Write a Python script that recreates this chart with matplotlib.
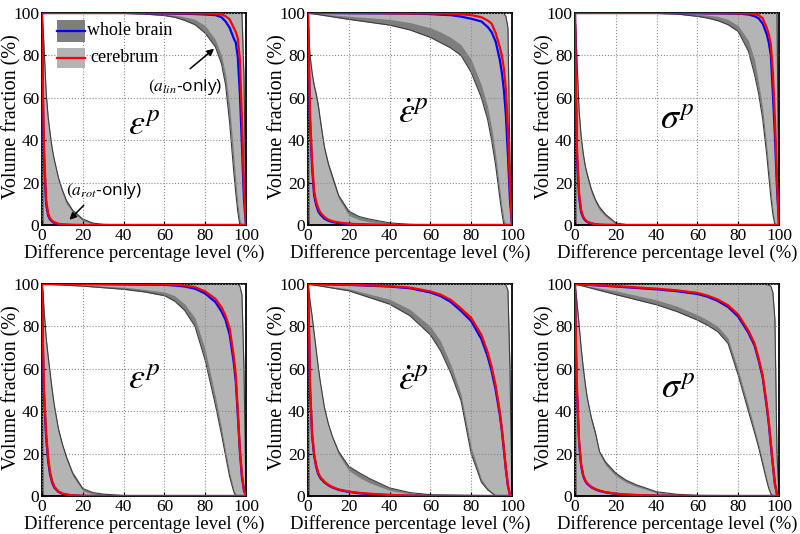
import matplotlib
matplotlib.use('Agg')
from matplotlib import pyplot as plt
from matplotlib.patches import Rectangle

plt.rcParams['font.family'] = 'Liberation Serif'
plt.rcParams['mathtext.fontset'] = 'stix'

# x grids (difference percentage level, %)
rot_x = [0, 0.5, 1, 2, 3, 4, 5, 6, 8, 10, 12, 15, 20, 25, 30, 40, 50, 60, 100]
lin_x = [0, 20, 40, 50, 60, 65, 70, 75, 80, 85, 88, 90, 92, 94, 95, 96, 97, 98, 99, 100]
rot_lo = [100, 0, 0, 0, 0, 0, 0, 0, 0, 0, 0, 0, 0, 0, 0, 0, 0, 0, 0]

# panel 1: eps^p (top)
p1_rot_wb = [100, 93, 84, 63, 51, 43, 36, 31, 22.5, 16.5, 11.5, 7, 2.8, 0.9, 0.3, 0, 0, 0, 0]
p1_rot_c = [100, 92, 83, 62, 50, 42, 35, 30, 21, 15, 10, 6, 2, 0.5, 0, 0, 0, 0, 0]
p1_rot_blue = [100, 55, 32, 10, 4.5, 2.5, 1.6, 1, 0.4, 0.2, 0.1, 0, 0, 0, 0, 0, 0, 0, 0]
p1_rot_red = [100, 60, 36, 12, 5.5, 3, 2, 1.3, 0.6, 0.3, 0.15, 0.05, 0, 0, 0, 0, 0, 0, 0]
p1_lin_wb = [100, 100, 99.8, 99.5, 98.8, 98, 96.5, 94.5, 90.5, 84, 76, 66, 48, 25, 15, 6, 0, 0, 0, 0]
p1_lin_c = [100, 100, 99.9, 99.8, 99.4, 99, 98.2, 97, 94, 87.5, 80, 71, 56, 33, 21, 10, 2.5, 0, 0, 0]
p1_lin_blue = [100, 100, 100, 99.9, 99.8, 99.7, 99.6, 99.5, 99.3, 99, 98, 96, 93, 88, 86, 79, 62, 38, 12, 0]
p1_lin_red = [100, 100, 100, 100, 99.9, 99.9, 99.8, 99.8, 99.7, 99.6, 99.3, 98.5, 97, 93, 91, 88, 78, 50, 18, 0]
p1_lin_hi = [100, 100, 100, 100, 100, 100, 100, 100, 100, 100, 100, 100, 100, 100, 100, 100, 100, 100, 70, 0]

# panel 2: eps-dot^p (top)
p2_rot_wb = [100, 87, 80, 72, 66, 62, 57, 50, 37, 29, 23, 14, 6.5, 4, 2.8, 1, 0.3, 0, 0]
p2_rot_c = [100, 85, 78, 70, 64, 59, 54, 47, 35, 27, 21, 12.5, 4.5, 2.5, 1.5, 0.5, 0.1, 0, 0]
p2_rot_blue = [100, 72, 48, 27, 14, 9.5, 6.5, 5, 3, 2, 1.4, 0.9, 0.5, 0.3, 0.1, 0, 0, 0, 0]
p2_rot_red = [100, 75, 52, 30, 16, 11, 8, 6, 3.8, 2.5, 1.8, 1.2, 0.6, 0.4, 0.2, 0, 0, 0, 0]
p2_lin_wb = [100, 97, 94.3, 92, 88.5, 86, 83.5, 80, 72, 60, 50, 40, 28, 13, 6, 0, 0, 0, 0, 0]
p2_lin_c = [100, 98.5, 97, 95.5, 93, 91, 88.5, 85, 78, 66, 56, 46, 33, 17, 9, 3, 0, 0, 0, 0]
p2_lin_blue = [100, 99.9, 99.8, 99.7, 99.5, 99.2, 99, 98.3, 97.3, 96, 93.5, 91, 86.5, 78, 72, 64, 52, 33, 12, 0]
p2_lin_red = [100, 100, 99.9, 99.8, 99.8, 99.7, 99.7, 99.4, 99, 98, 96.5, 95, 90.5, 84, 80, 74, 64, 45, 18, 0]
p2_lin_hi = [100, 100, 100, 100, 100, 100, 100, 100, 100, 100, 100, 100, 100, 100, 100, 99.7, 98.5, 93, 30, 0]

# panel 3: sigma^p (top)
p3_rot_wb = [100, 91, 77, 54, 42, 34, 28, 24, 17, 12, 8.5, 5, 1, 0.2, 0, 0, 0, 0, 0]
p3_rot_c = [100, 90, 75, 52, 40, 32, 26, 22, 15, 10.5, 7, 4, 0.5, 0, 0, 0, 0, 0, 0]
p3_rot_blue = [100, 60, 32, 13, 6, 3.5, 2.2, 1.4, 0.7, 0.3, 0.1, 0, 0, 0, 0, 0, 0, 0, 0]
p3_rot_red = [100, 65, 35, 15, 7, 4, 2.5, 1.6, 0.8, 0.4, 0.2, 0.1, 0, 0, 0, 0, 0, 0, 0]
p3_lin_wb = [100, 100, 99.8, 99.5, 98.4, 97.6, 96.4, 94.5, 91.3, 82, 71, 62, 50, 33, 23, 13, 5, 0, 0, 0]
p3_lin_c = [100, 100, 99.9, 99.8, 99.4, 99, 98.4, 97, 94, 87, 78, 67, 55, 37, 27, 17, 7, 1, 0, 0]
p3_lin_blue = [100, 100, 100, 99.9, 99.9, 99.8, 99.8, 99.7, 99.7, 99.3, 98.5, 97.5, 95, 90, 86, 80, 62, 42, 18, 0]
p3_lin_red = [100, 100, 100, 100, 100, 99.9, 99.9, 99.9, 99.8, 99.8, 99.5, 99, 97.5, 93, 90, 85, 72, 50, 22, 0]
p3_lin_hi = [100, 100, 100, 100, 100, 100, 100, 100, 100, 100, 100, 100, 100, 100, 100, 100, 100, 100, 100, 0]

# panel 4: eps^p (bottom)
p4_rot_wb = [100, 96, 88, 75, 66, 58, 50, 43, 32, 24.5, 18.5, 11, 3.5, 1.6, 0.9, 0.2, 0, 0, 0]
p4_rot_c = [100, 95, 86, 73, 64, 56, 48, 41, 30, 23, 17, 9.5, 2.5, 0.8, 0.3, 0, 0, 0, 0]
p4_rot_blue = [100, 67, 47, 28, 16.5, 10, 6.3, 4, 2, 1, 0.6, 0.25, 0.05, 0, 0, 0, 0, 0, 0]
p4_rot_red = [100, 70, 50, 30, 18, 11, 7, 4.5, 2.2, 1.2, 0.7, 0.3, 0.1, 0, 0, 0, 0, 0, 0]
p4_lin_wb = [100, 99, 97.5, 96.3, 94.5, 92, 87.5, 80, 64, 43, 29, 19, 9, 2, 0, 0, 0, 0, 0, 0]
p4_lin_c = [100, 99.5, 98.5, 97.5, 96.2, 94.5, 90.5, 84, 69, 47, 32, 21, 11, 3, 0.5, 0, 0, 0, 0, 0]
p4_lin_blue = [100, 100, 99.8, 99.7, 99.6, 99.3, 98.8, 97.8, 95.5, 91.5, 87, 83, 76, 63, 54, 38, 21, 9, 2.5, 0]
p4_lin_red = [100, 100, 99.9, 99.9, 99.8, 99.6, 99.3, 98.5, 96.5, 93, 89, 85, 79, 66, 57, 40, 22, 10, 3, 0]
p4_lin_hi = [100, 100, 100, 100, 100, 100, 100, 100, 100, 100, 100, 100, 100, 100, 100, 100, 99, 95, 60, 0]

# panel 5: eps-dot^p (bottom)
p5_rot_wb = [100, 96, 92, 85, 77, 69, 61, 54, 42, 34, 28, 21, 14, 11, 8.3, 3.8, 1.6, 0.6, 0]
p5_rot_c = [100, 95, 91, 84, 76, 68, 60, 53, 41, 33, 27, 19.5, 12, 8.8, 6.3, 2.6, 1, 0.3, 0]
p5_rot_blue = [100, 76, 50, 28.5, 19, 13.8, 10.4, 8.5, 6.4, 5, 4, 2.9, 1.9, 1.3, 0.9, 0.4, 0.1, 0, 0]
p5_rot_red = [100, 78, 52, 30, 20, 14.5, 11, 9, 6.8, 5.3, 4.2, 3.1, 2.1, 1.5, 1.1, 0.5, 0.2, 0, 0]
p5_lin_wb = [100, 96.8, 90.5, 85, 76, 68.5, 58, 45, 20, 6.5, 3, 1.5, 0, 0, 0, 0, 0, 0, 0, 0]
p5_lin_c = [100, 97.8, 92.8, 88, 80, 73, 62, 48, 23, 8, 3.8, 2, 0.5, 0, 0, 0, 0, 0, 0, 0]
p5_lin_blue = [100, 99.6, 98.8, 98, 96, 94.3, 91.5, 87.3, 82.5, 74, 66, 59, 50, 38.5, 31, 22, 12.5, 4.8, 0.5, 0]
p5_lin_red = [100, 99.7, 99, 98.3, 96.5, 95, 92.5, 88.5, 84, 76, 68, 61, 52, 40, 32, 23, 13, 5, 0.5, 0]
p5_lin_hi = [100, 100, 100, 100, 100, 100, 100, 100, 100, 100, 100, 100, 100, 100, 100, 100, 99.5, 97, 60, 0]

# panel 6: sigma^p (bottom)
p6_rot_wb = [100, 96, 91, 81, 70, 61, 53, 46.5, 37, 30, 21, 16, 10.8, 7.5, 5.3, 2, 0.8, 0.3, 0]
p6_rot_c = [100, 95, 90, 79, 68, 59, 51, 45, 35, 28, 20, 14.5, 9.5, 6.5, 4.5, 1.5, 0.5, 0.1, 0]
p6_rot_blue = [100, 68, 48, 25, 14.3, 9.5, 7.1, 5.7, 4.1, 3.1, 2.4, 1.7, 1, 0.6, 0.4, 0.15, 0, 0, 0]
p6_rot_red = [100, 70, 50, 26, 15, 10, 7.5, 6, 4.3, 3.3, 2.6, 1.8, 1.1, 0.7, 0.5, 0.2, 0.1, 0, 0]
p6_lin_wb = [100, 95, 90.2, 87, 83, 80.5, 77.5, 72, 57, 40, 30, 23, 15, 7, 3.5, 1, 0, 0, 0, 0]
p6_lin_c = [100, 96.8, 92.5, 89.5, 85.5, 83, 80, 74.5, 59.5, 42.5, 32, 24.5, 16.5, 8, 4.5, 1.5, 0.3, 0, 0, 0]
p6_lin_blue = [100, 98.8, 97.5, 96.6, 95.3, 94, 92, 89.2, 84.6, 77, 71, 64, 56, 42, 34, 24, 14.5, 5.5, 0.8, 0]
p6_lin_red = [100, 99, 97.8, 97, 95.8, 94.5, 92.7, 90, 85.6, 78, 72, 65, 57, 43, 35, 25, 15, 6, 1, 0]
p6_lin_hi = [100, 100, 100, 100, 100, 100, 100, 100, 100, 100, 100, 100, 100, 99.7, 99.5, 99, 96, 83, 20, 0]

symbols = [r'$\varepsilon^p$', r'$\dot{\varepsilon}^p$', r'$\sigma^p$',
           r'$\varepsilon^p$', r'$\dot{\varepsilon}^p$', r'$\sigma^p$']
ticks = [0, 20, 40, 60, 80, 100]
legend_labels = ['whole brain', 'cerebrum']

panels = [
    (p1_rot_wb, p1_rot_c, p1_rot_blue, p1_rot_red, p1_lin_wb, p1_lin_c, p1_lin_blue, p1_lin_red, p1_lin_hi),
    (p2_rot_wb, p2_rot_c, p2_rot_blue, p2_rot_red, p2_lin_wb, p2_lin_c, p2_lin_blue, p2_lin_red, p2_lin_hi),
    (p3_rot_wb, p3_rot_c, p3_rot_blue, p3_rot_red, p3_lin_wb, p3_lin_c, p3_lin_blue, p3_lin_red, p3_lin_hi),
    (p4_rot_wb, p4_rot_c, p4_rot_blue, p4_rot_red, p4_lin_wb, p4_lin_c, p4_lin_blue, p4_lin_red, p4_lin_hi),
    (p5_rot_wb, p5_rot_c, p5_rot_blue, p5_rot_red, p5_lin_wb, p5_lin_c, p5_lin_blue, p5_lin_red, p5_lin_hi),
    (p6_rot_wb, p6_rot_c, p6_rot_blue, p6_rot_red, p6_lin_wb, p6_lin_c, p6_lin_blue, p6_lin_red, p6_lin_hi),
]

DARK = '#7e7e7e'
LIGHT = '#b4b4b4'
EDGE = '#3c3c3c'

W, H = 800, 534
fig = plt.figure(figsize=(8, 5.34), dpi=100)

# axes placement in pixels (left, top)
lefts = [42, 308, 575]
tops = [13, 284]
sym_pos = [(42, 43), (44, 48), (41.6, 45.8), (42.4, 51), (44, 50), (42, 46.5)]

axes = []
for i in range(6):
    r, c = divmod(i, 3)
    ax = fig.add_axes([lefts[c] / W, 1 - (tops[r] + 212) / H, 204 / W, 212 / H])
    rwb, rc, rb, rr, lwb, lc, lb, lr, lhi = panels[i]

    # whole brain range (dark) under cerebrum range (light)
    ax.fill_between(rot_x, rot_lo, rwb, color=DARK, lw=0, zorder=1)
    ax.fill_between(rot_x, rot_lo, rc, color=LIGHT, lw=0, zorder=1.1)
    ax.fill_between(lin_x, lwb, lhi, color=DARK, lw=0, zorder=1)
    ax.fill_between(lin_x, lc, lhi, color=LIGHT, lw=0, zorder=1.1)
    for xs, ys in [(rot_x, rwb), (rot_x, rot_lo), (lin_x, lwb), (lin_x, lhi)]:
        ax.plot(xs, ys, color=EDGE, lw=0.8, zorder=1.2)

    # mean curves
    ax.plot(rot_x, rb, color='#0000ff', lw=1.6, zorder=3)
    ax.plot(lin_x, lb, color='#0000ff', lw=1.6, zorder=3)
    ax.plot(rot_x, rr, color='#ff0000', lw=1.6, zorder=3.1)
    ax.plot(lin_x, lr, color='#ff0000', lw=1.6, zorder=3.1)

    ax.set_xlim(0, 100)
    ax.set_ylim(0, 100)
    ax.set_xticks(ticks)
    ax.set_yticks(ticks)
    ax.set_axisbelow(False)
    ax.grid(True, linestyle=':', color='#8a8a8a', lw=0.8, zorder=2)
    ax.tick_params(direction='in', length=3, labelsize=12.5, pad=2)
    for s in ax.spines.values():
        s.set_linewidth(1.3)
        s.set_zorder(2.5)
    ax.set_xlabel('Difference percentage level (%)', fontsize=13.5, labelpad=0)
    ax.set_ylabel('Volume fraction (%)', fontsize=14.5)
    ax.yaxis.set_label_coords(-0.1, 0.51)
    ax.text(sym_pos[i][0], sym_pos[i][1], symbols[i], fontsize=26,
            ha='left', va='baseline', zorder=4)
    axes.append(ax)

# legend (drawn by hand so the swatches get the reference size)
ax = axes[0]
swatch = [(DARK, '#0000ff', 0.865, 0.967, 0.219), (LIGHT, '#ff0000', 0.741, 0.835, 0.235)]
for (fc, lc, y0, y1, tx), lab in zip(swatch, legend_labels):
    ax.add_patch(Rectangle((0.072, y0), 0.139, y1 - y0, transform=ax.transAxes,
                           facecolor=fc, edgecolor='none', zorder=5))
    ym = (y0 + y1) / 2
    ax.plot([0.072, 0.211], [ym, ym], color=lc, lw=1.6, transform=ax.transAxes, zorder=5.1)
    ax.text(tx, ym, lab, transform=ax.transAxes, fontsize=13, ha='left', va='center', zorder=5)

# annotations
ax.annotate('', xy=(85.4, 84), xytext=(71.6, 72.9),
            arrowprops=dict(arrowstyle='-|>', color='k', lw=1.1, mutation_scale=10), zorder=5)
ax.text(52, 63, r'$(a_{lin}$-only)', fontsize=12.5, family='Open Sans', zorder=5)
ax.annotate('', xy=(12.5, 1.5), xytext=(21.4, 10.2),
            arrowprops=dict(arrowstyle='-|>', color='k', lw=1.1, mutation_scale=10), zorder=5)
ax.text(11.7, 14.2, r'$(a_{rot}$-only)', fontsize=12.5, family='Open Sans', zorder=5)

fig.savefig('out.png', dpi=100)
